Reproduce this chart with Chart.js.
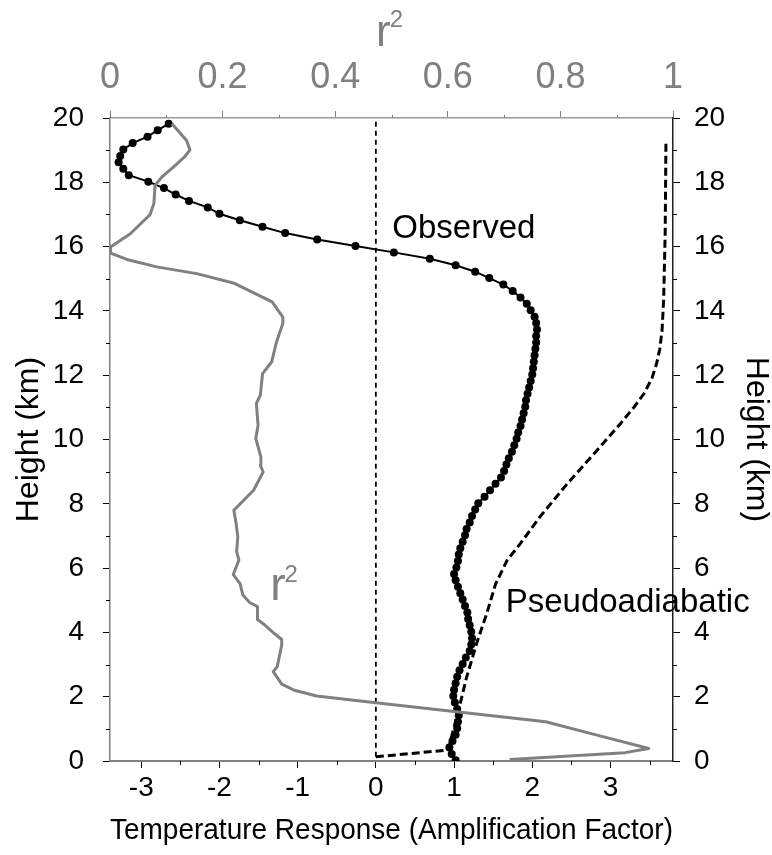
<!DOCTYPE html>
<html>
<head>
<meta charset="utf-8">
<script src="https://cdn.jsdelivr.net/npm/chart.js@4.4.1/dist/chart.umd.min.js"></script>
<style>
  html, body { margin: 0; padding: 0; background: #fff; }
  #wrap { width: 772px; height: 855px; }
</style>
</head>
<body>
<div id="wrap"><canvas id="chart"></canvas></div>
<script>
// Observed temperature response (amplification factor) against height (km)
const observedHeight = [
  0.02, 0.22, 0.42, 0.62, 0.82, 1.02, 1.22, 1.42, 1.62, 1.82,
  2.02, 2.22, 2.42, 2.62, 2.82, 3.02, 3.22, 3.42, 3.62, 3.82,
  4.02, 4.22, 4.42, 4.62, 4.82, 5.02, 5.22, 5.42, 5.62, 5.82,
  6.02, 6.22, 6.42, 6.62, 6.82, 7.02, 7.22, 7.42, 7.62, 7.82,
  8.02, 8.22, 8.42, 8.62, 8.82, 9.02, 9.22, 9.42, 9.62, 9.82,
  10.02, 10.22, 10.42, 10.62, 10.82, 11.02, 11.22, 11.42, 11.62, 11.82,
  12.02, 12.22, 12.42, 12.62, 12.82, 13.02, 13.22, 13.42, 13.62, 13.82,
  14.02, 14.22, 14.42, 14.62, 14.82, 15.02, 15.22, 15.42, 15.62, 15.82,
  16.02, 16.22, 16.42, 16.62, 16.82, 17.02, 17.22, 17.42, 17.62, 17.82,
  18.02, 18.22, 18.42, 18.62, 18.82, 19.02, 19.22, 19.42, 19.62, 19.82
];
const observedResponse = [
  1.02, 0.97, 0.94, 0.98, 1.02, 1.04, 1.05, 1.06, 1.04, 1.01,
  0.99, 1.00, 1.02, 1.04, 1.07, 1.11, 1.15, 1.20, 1.22, 1.23,
  1.22, 1.20, 1.18, 1.17, 1.14, 1.11, 1.08, 1.05, 1.02, 1.00,
  1.03, 1.05, 1.06, 1.08, 1.11, 1.14, 1.16, 1.20, 1.23, 1.27,
  1.31, 1.39, 1.46, 1.53, 1.60, 1.64, 1.67, 1.70, 1.74, 1.77,
  1.80, 1.82, 1.85, 1.87, 1.89, 1.91, 1.92, 1.94, 1.96, 1.98,
  2.00, 2.01, 2.02, 2.03, 2.04, 2.05, 2.05, 2.06, 2.05, 2.03,
  1.98, 1.93, 1.85, 1.75, 1.63, 1.45, 1.27, 1.02, 0.69, 0.23,
  -0.26, -0.75, -1.16, -1.45, -1.74, -2.00, -2.15, -2.39, -2.56, -2.71,
  -2.91, -3.16, -3.23, -3.29, -3.27, -3.23, -3.11, -2.92, -2.79, -2.65
];

// Pseudoadiabatic profile
const pseudoHeight = [
  0.13, 0.34, 0.40, 1.80, 2.60, 3.67, 4.60, 5.50, 5.70, 6.25,
  6.77, 7.60, 8.63, 9.56, 10.50, 11.00, 11.43, 11.90, 12.36, 12.80,
  13.40, 14.33, 16.40, 19.30
];
const pseudoResponse = [
  0.00, 0.91, 0.93, 1.08, 1.16, 1.29, 1.42, 1.53, 1.57, 1.68,
  1.85, 2.10, 2.45, 2.79, 3.13, 3.30, 3.43, 3.53, 3.59, 3.63,
  3.66, 3.68, 3.70, 3.71
];

// Correlation r² against height (top axis)
const r2Height = [
  0.05, 0.26, 0.39, 0.86, 1.22, 1.81, 2.02, 2.21, 2.39, 2.78,
  2.93, 3.61, 3.78, 3.95, 4.23, 4.40, 4.80, 4.93, 5.16, 5.52,
  5.80, 6.25, 6.51, 6.97, 7.39, 7.80, 8.42, 8.99, 9.20, 9.46,
  10.03, 10.44, 11.12, 11.38, 12.05, 12.41, 13.05, 13.61, 13.81, 14.28,
  14.87, 15.16, 15.37, 15.60, 15.80, 15.99, 16.40, 16.99, 17.34, 17.90,
  18.16, 18.53, 18.78, 19.01, 19.30, 19.82
];
const r2Value = [
  0.710, 0.915, 0.957, 0.853, 0.774, 0.472, 0.367, 0.326, 0.305, 0.290,
  0.297, 0.305, 0.305, 0.293, 0.275, 0.262, 0.262, 0.248, 0.236, 0.231,
  0.219, 0.229, 0.225, 0.227, 0.224, 0.220, 0.255, 0.272, 0.267, 0.268,
  0.259, 0.263, 0.260, 0.267, 0.271, 0.287, 0.296, 0.307, 0.307, 0.288,
  0.219, 0.154, 0.083, 0.030, 0.001, 0.001, 0.036, 0.071, 0.078, 0.080,
  0.092, 0.116, 0.132, 0.142, 0.136, 0.110
];

// Zero-response reference line
const zeroLineHeight = [0.13, 20];
const zeroLineResponse = [0, 0];

// Axis ticks
const responseTicks = [-3, -2, -1, 0, 1, 2, 3];
const responseMinorTicks = [-2.5, -1.5, -0.5, 0.5, 1.5, 2.5, 3.5];
const heightTicks = [0, 2, 4, 6, 8, 10, 12, 14, 16, 18, 20];
const heightMinorTicks = [1, 3, 5, 7, 9, 11, 13, 15, 17, 19];
const r2Ticks = [0, 0.2, 0.4, 0.6, 0.8, 1];
const r2MinorTicks = [0.1, 0.3, 0.5, 0.7, 0.9];

const FONT = '"Liberation Sans", Arial, sans-serif';
const GRAY = '#808080';

const toPoints = (xs, ys) => xs.map((x, i) => ({ x: x, y: ys[i] }));

// Minor ticks and in-plot text labels
const extras = {
  id: 'extras',
  afterDraw(chart) {
    const { ctx } = chart;
    const { x, x2, y, y2 } = chart.scales;
    ctx.save();
    const seg = (ax, ay, bx, by, color, w) => {
      ctx.beginPath();
      ctx.strokeStyle = color;
      ctx.lineWidth = w;
      ctx.moveTo(ax, ay);
      ctx.lineTo(bx, by);
      ctx.stroke();
    };
    responseMinorTicks.forEach(v => {
      const px = Math.round(x.getPixelForValue(v)) + 0.5;
      seg(px, x.top, px, x.top + 4, '#000', 1);
    });
    heightMinorTicks.forEach(v => {
      const py = Math.round(y.getPixelForValue(v)) + 0.5;
      seg(y.right - 4, py, y.right, py, '#000', 1);
      seg(y2.left, py, y2.left + 4, py, '#000', 1);
    });
    r2MinorTicks.forEach(v => {
      const px = Math.round(x2.getPixelForValue(v)) + 0.5;
      seg(px, x2.bottom - 3, px, x2.bottom, GRAY, 1);
    });

    // Series labels
    ctx.textAlign = 'left';
    ctx.textBaseline = 'alphabetic';
    ctx.fillStyle = '#000';
    ctx.font = '33px ' + FONT;
    ctx.fillText('Observed', x.getPixelForValue(0.21), y.getPixelForValue(16.26));
    ctx.fillText('Pseudoadiabatic', x.getPixelForValue(1.66), y.getPixelForValue(4.64));

    // r with a raised 2
    const drawR2 = (left, base, big, small, rise) => {
      ctx.fillStyle = GRAY;
      ctx.font = big + 'px ' + FONT;
      ctx.fillText('r', left, base);
      const w = ctx.measureText('r').width;
      ctx.font = small + 'px ' + FONT;
      ctx.fillText('2', left + w - 1, base - rise);
    };
    drawR2(x.getPixelForValue(-1.35), y.getPixelForValue(5.0), 46, 24, 18);

    // r² axis title, centred over the top axis
    ctx.font = '44px ' + FONT;
    const rw = ctx.measureText('r').width;
    ctx.font = '24px ' + FONT;
    const tw = ctx.measureText('2').width;
    const cx = (x2.left + x2.right) / 2 - 2;
    drawR2(cx - (rw + tw - 1) / 2, 46, 44, 24, 19);
    ctx.restore();
  }
};

new Chart(document.getElementById('chart'), {
  type: 'scatter',
  data: {
    datasets: [
      {
        label: 'r2',
        data: toPoints(r2Value, r2Height),
        xAxisID: 'x2', yAxisID: 'y',
        showLine: true, borderColor: GRAY, borderWidth: 3, pointRadius: 0,
        borderJoinStyle: 'round'
      },
      {
        label: 'Zero',
        data: toPoints(zeroLineResponse, zeroLineHeight),
        xAxisID: 'x', yAxisID: 'y',
        showLine: true, borderColor: '#000', borderWidth: 1.8, borderDash: [5, 4], pointRadius: 0
      },
      {
        label: 'Pseudoadiabatic',
        data: toPoints(pseudoResponse, pseudoHeight),
        xAxisID: 'x', yAxisID: 'y',
        showLine: true, borderColor: '#000', borderWidth: 3, borderDash: [8, 4], pointRadius: 0
      },
      {
        label: 'Observed',
        data: toPoints(observedResponse, observedHeight),
        xAxisID: 'x', yAxisID: 'y',
        showLine: true, borderColor: '#000', borderWidth: 2,
        pointRadius: 4, pointBackgroundColor: '#000', pointBorderWidth: 0
      }
    ]
  },
  options: {
    responsive: true,
    maintainAspectRatio: false,
    animation: false,
    layout: { padding: 0 },
    elements: { line: { tension: 0 } },
    plugins: { legend: { display: false }, tooltip: { enabled: false } },
    scales: {
      x: {
        type: 'linear', position: 'bottom', min: -3.4, max: 3.8,
        afterBuildTicks: s => { s.ticks = responseTicks.map(v => ({ value: v })); },
        afterFit: s => { s.height = 94; },
        ticks: { color: '#000', font: { family: FONT, size: 28 }, padding: 3, maxRotation: 0, autoSkip: false,
                 callback: v => String(v) },
        grid: { display: true, drawOnChartArea: false, drawTicks: true, tickLength: 7, tickColor: '#000', tickWidth: 1 },
        border: { display: true, color: GRAY, width: 2 },
        title: { display: true, text: 'Temperature Response (Amplification Factor)', color: '#000',
                 font: { family: FONT, size: 30 }, padding: { top: 0, bottom: 6 } }
      },
      x2: {
        type: 'linear', position: 'top', min: 0, max: 1,
        afterBuildTicks: s => { s.ticks = r2Ticks.map(v => ({ value: v })); },
        afterFit: s => { s.height = 118; },
        ticks: { color: GRAY, font: { family: FONT, size: 36 }, padding: 11, maxRotation: 0, autoSkip: false,
                 callback: v => String(+v.toFixed(1)) },
        grid: { display: true, drawOnChartArea: false, drawTicks: true, tickLength: 7, tickColor: GRAY, tickWidth: 1 },
        border: { display: true, color: '#9a9a9a', width: 1.5 }
      },
      y: {
        type: 'linear', position: 'left', min: 0, max: 20,
        afterBuildTicks: s => { s.ticks = heightTicks.map(v => ({ value: v })); },
        afterFit: s => { s.width = 110; },
        ticks: { color: '#000', font: { family: FONT, size: 28 }, padding: 19, autoSkip: false,
                 callback: v => String(v) },
        grid: { display: true, drawOnChartArea: false, drawTicks: true, tickLength: 7, tickColor: '#000', tickWidth: 1 },
        border: { display: true, color: GRAY, width: 1.5 },
        title: { display: true, text: 'Height (km)', color: '#000',
                 font: { family: FONT, size: 32 }, padding: { top: 10, bottom: 0 } }
      },
      y2: {
        type: 'linear', position: 'right', min: 0, max: 20,
        afterBuildTicks: s => { s.ticks = heightTicks.map(v => ({ value: v })); },
        afterFit: s => { s.width = 99; },
        ticks: { color: '#000', font: { family: FONT, size: 28 }, padding: 14, autoSkip: false,
                 callback: v => String(v) },
        grid: { display: true, drawOnChartArea: false, drawTicks: true, tickLength: 7, tickColor: '#000', tickWidth: 1 },
        border: { display: true, color: '#222', width: 1.5 },
        title: { display: true, text: 'Height (km)', color: '#000',
                 font: { family: FONT, size: 32 }, padding: { top: -3, bottom: 0 } }
      }
    }
  },
  plugins: [extras]
});
</script>
</body>
</html>
